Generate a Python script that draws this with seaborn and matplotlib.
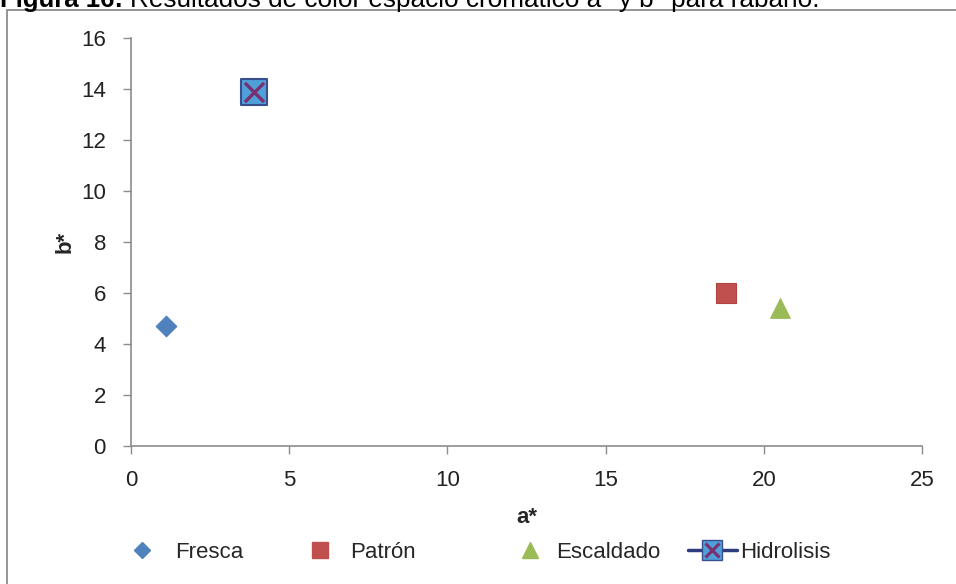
import matplotlib
matplotlib.use("Agg")
import matplotlib.pyplot as plt
from matplotlib.lines import Line2D
from matplotlib.patches import Rectangle
import seaborn as sns
import pandas as pd

# Color coordinates a*, b* for each radish treatment
tratamientos = ["Fresca", "Patrón", "Escaldado", "Hidrolisis"]
a_vals = [1.1, 18.8, 20.5, 3.9]
b_vals = [4.7, 6.0, 5.4, 13.9]

x_ticks = [0, 5, 10, 15, 20, 25]
y_ticks = [0, 2, 4, 6, 8, 10, 12, 14, 16]

colores = {"Fresca": "#4F81BD", "Patrón": "#C0504D",
           "Escaldado": "#9BBB59", "Hidrolisis": "#4F9FD8"}
marcadores = {"Fresca": "D", "Patrón": "s", "Escaldado": "^", "Hidrolisis": "s"}
tamanos = {"Fresca": 110, "Patrón": 190, "Escaldado": 200, "Hidrolisis": 360}
bordes = {"Fresca": "#4F81BD", "Patrón": "#B04440",
          "Escaldado": "#9BBB59", "Hidrolisis": "#3A4F8F"}

df = pd.DataFrame({"tratamiento": tratamientos, "a": a_vals, "b": b_vals})

sns.set_theme(style="white")
plt.rcParams["font.family"] = ["Liberation Sans", "DejaVu Sans"]

W, H = 956, 584
fig = plt.figure(figsize=(W / 100, H / 100), dpi=100)

# outer chart frame (continues past right and bottom edges)
fig.patches.append(Rectangle((7 / W, -0.1), 1.2, 1 - 10 / H + 0.1,
                             transform=fig.transFigure, fill=False,
                             edgecolor="#8C8C8C", linewidth=1.3))

# caption, sitting partly above the top edge
base_y = 1 - 7 / H
t1 = fig.text(0.0, base_y, "Figura 16:", fontsize=18.5, fontweight="bold",
              va="baseline", ha="left", color="black")
renderer = fig.canvas.get_renderer()
bb = t1.get_window_extent(renderer=renderer)
fig.text((bb.x1 + 7) / W, base_y,
         "Resultados de color espacio cromático a* y b* para rábano.",
         fontsize=18.8, va="baseline", ha="left", color="black")

ax = fig.add_axes([131 / W, (H - 446) / H, (922 - 131) / W, (446 - 38) / H])

for t in tratamientos:
    sub = df[df["tratamiento"] == t]
    sns.scatterplot(data=sub, x="a", y="b", ax=ax, marker=marcadores[t],
                    s=tamanos[t], color=colores[t], edgecolor=bordes[t],
                    linewidth=1.5 if t == "Hidrolisis" else 0.8, zorder=3,
                    legend=False)
# cross drawn over the Hidrolisis square
hid = df[df["tratamiento"] == "Hidrolisis"]
sns.scatterplot(data=hid, x="a", y="b", ax=ax, marker="x", s=190,
                color="#7A2F6F", linewidth=2.4, zorder=4, legend=False)

ax.set_xlim(0, 25)
ax.set_ylim(0, 16)
ax.set_xticks(x_ticks)
ax.set_yticks(y_ticks)
ax.set_xticklabels([str(v) for v in x_ticks])
ax.set_yticklabels([str(v) for v in y_ticks])
ax.tick_params(axis="both", which="major", direction="out", length=6,
               width=1, color="#8C8C8C", labelsize=16, labelcolor="#222222",
               bottom=True, left=True)
ax.tick_params(axis="x", pad=11)
ax.tick_params(axis="y", pad=12)
for side in ["top", "right"]:
    ax.spines[side].set_visible(False)
for side in ["left", "bottom"]:
    ax.spines[side].set_color("#8C8C8C")
    ax.spines[side].set_linewidth(1.2)

ax.set_xlabel("a*", fontsize=16, fontweight="bold", labelpad=12)
ax.set_ylabel("b*", fontsize=16, fontweight="bold", labelpad=4)

# legend entries placed one by one along the bottom
handles = [
    Line2D([], [], linestyle="none", marker="D", markersize=8,
           color=colores["Fresca"]),
    Line2D([], [], linestyle="none", marker="s", markersize=11,
           color=colores["Patrón"]),
    Line2D([], [], linestyle="none", marker="^", markersize=11,
           color=colores["Escaldado"]),
    (Line2D([], [], linestyle="-", color="#2E3C7E", linewidth=2.5,
            marker="s", markersize=14, markerfacecolor=colores["Hidrolisis"],
            markeredgecolor="#3A4F8F"),
     Line2D([], [], linestyle="none", marker="x", markersize=10,
            color="#7A2F6F", markeredgewidth=2.2)),
]
starts = [131, 309, 519, 688]
lengths = [1.0, 1.0, 1.0, 2.2]
pads = [1.0, 0.86, 0.68, 0.14]
for h, lab, x0, hl, pd_ in zip(handles, tratamientos, starts, lengths, pads):
    fig.legend([h], [lab], loc="center left",
               bbox_to_anchor=(x0 / W, 1 - 552 / H), frameon=False,
               fontsize=16, handlelength=hl, handletextpad=pd_,
               borderpad=0, borderaxespad=0)

fig.savefig("out.png", dpi=100)
